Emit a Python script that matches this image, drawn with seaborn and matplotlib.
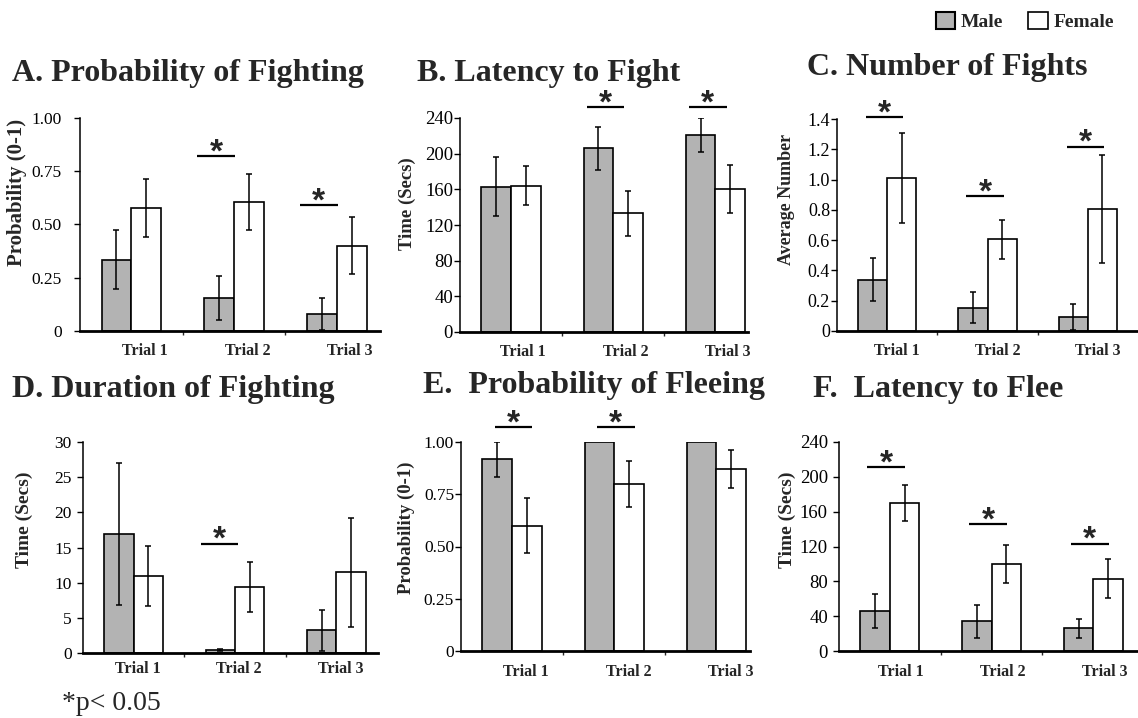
import numpy as np
import pandas as pd
import matplotlib.pyplot as plt
import seaborn as sns
from matplotlib.patches import Patch

# data
trials = ['Trial 1', 'Trial 2', 'Trial 3']
sexes = ['Male', 'Female']

# A. probability of fighting
fight_prob_male = [0.335, 0.155, 0.08]
fight_prob_male_se = [0.14, 0.105, 0.075]
fight_prob_female = [0.578, 0.605, 0.40]
fight_prob_female_se = [0.135, 0.13, 0.133]
fight_prob_sig = [1, 2]
fight_prob_sig_y = [0.82, 0.59]

# B. latency to fight
fight_lat_male = [163, 206, 221]
fight_lat_male_se = [33, 24, 19]
fight_lat_female = [164, 133, 160]
fight_lat_female_se = [22, 25, 27]
fight_lat_sig = [1, 2]
fight_lat_sig_y = [252, 252]

# C. number of fights
fight_num_male = [0.34, 0.155, 0.09]
fight_num_male_se = [0.14, 0.105, 0.085]
fight_num_female = [1.01, 0.605, 0.805]
fight_num_female_se = [0.30, 0.13, 0.355]
fight_num_sig = [0, 1, 2]
fight_num_sig_y = [1.41, 0.89, 1.214]

# D. duration of fighting
fight_dur_male = [16.9, 0.45, 3.2]
fight_dur_male_se = [10.1, 0.1, 2.9]
fight_dur_female = [10.95, 9.45, 11.45]
fight_dur_female_se = [4.2, 3.55, 7.7]
fight_dur_sig = [1]
fight_dur_sig_y = [15.5]

# E. probability of fleeing
flee_prob_male = [0.917, 1.0, 1.0]
flee_prob_male_se = [0.085, 0, 0]
flee_prob_female = [0.60, 0.80, 0.87]
flee_prob_female_se = [0.13, 0.11, 0.092]
flee_prob_sig = [0, 1]
flee_prob_sig_y = [1.07, 1.07]

# F. latency to flee
flee_lat_male = [46, 34, 26]
flee_lat_male_se = [20, 18.7, 11]
flee_lat_female = [170, 100, 83]
flee_lat_female_se = [20.5, 21.7, 22.7]
flee_lat_sig = [0, 1, 2]
flee_lat_sig_y = [211, 145.6, 123.4]

prob_ticks = [0, 0.25, 0.5, 0.75, 1.0]
prob_ticklabels = ['0', '0.25', '0.50', '0.75', '1.00']
time_ticks = [0, 40, 80, 120, 160, 200, 240]
num_ticks = [0, 0.2, 0.4, 0.6, 0.8, 1.0, 1.2, 1.4]
num_ticklabels = ['0', '0.2', '0.4', '0.6', '0.8', '1.0', '1.2', '1.4']
dur_ticks = [0, 5, 10, 15, 20, 25, 30]

panels = [
    dict(title='A. Probability of Fighting', ylabel='Probability (0-1)',
         male=fight_prob_male, male_se=fight_prob_male_se,
         female=fight_prob_female, female_se=fight_prob_female_se,
         ticks=prob_ticks, ticklabels=prob_ticklabels,
         sig=fight_prob_sig, sig_y=fight_prob_sig_y),
    dict(title='B. Latency to Fight', ylabel='Time (Secs)',
         male=fight_lat_male, male_se=fight_lat_male_se,
         female=fight_lat_female, female_se=fight_lat_female_se,
         ticks=time_ticks, ticklabels=[str(t) for t in time_ticks],
         sig=fight_lat_sig, sig_y=fight_lat_sig_y),
    dict(title='C. Number of Fights', ylabel='Average Number',
         male=fight_num_male, male_se=fight_num_male_se,
         female=fight_num_female, female_se=fight_num_female_se,
         ticks=num_ticks, ticklabels=num_ticklabels,
         sig=fight_num_sig, sig_y=fight_num_sig_y),
    dict(title='D. Duration of Fighting', ylabel='Time (Secs)',
         male=fight_dur_male, male_se=fight_dur_male_se,
         female=fight_dur_female, female_se=fight_dur_female_se,
         ticks=dur_ticks, ticklabels=[str(t) for t in dur_ticks],
         sig=fight_dur_sig, sig_y=fight_dur_sig_y),
    dict(title='E.  Probability of Fleeing', ylabel='Probability (0-1)',
         male=flee_prob_male, male_se=flee_prob_male_se,
         female=flee_prob_female, female_se=flee_prob_female_se,
         ticks=prob_ticks, ticklabels=prob_ticklabels,
         sig=flee_prob_sig, sig_y=flee_prob_sig_y),
    dict(title='F.  Latency to Flee', ylabel='Time (Secs)',
         male=flee_lat_male, male_se=flee_lat_male_se,
         female=flee_lat_female, female_se=flee_lat_female_se,
         ticks=time_ticks, ticklabels=[str(t) for t in time_ticks],
         sig=flee_lat_sig, sig_y=flee_lat_sig_y),
]

# layout in pixels: axes box (left, top, right, bottom), x max, title pos,
# ylabel coords, ylabel size, tick size, tick pad, star-line start offset
layout = [
    dict(box=(80, 118, 380, 331), xmax=2.42, tpos=(12, 73), lab=(-0.177, 0.65), lsize=15, tsize=12.5, tpad=9, off=-0.36, xlab_off=0.13, xpad=9),
    dict(box=(460, 118, 748, 332), xmax=2.32, tpos=(417, 73), lab=(-0.153, 0.60), lsize=13.5, tsize=13.5, tpad=1, off=-0.26, xlab_off=0.12, xpad=9),
    dict(box=(837, 119, 1137, 331), xmax=2.49, tpos=(807, 68), lab=(-0.14, 0.62), lsize=13, tsize=13, tpad=1, off=-0.21, xlab_off=0.1, xpad=9),
    dict(box=(83, 442, 378, 653), xmax=2.41, tpos=(12, 390), lab=(-0.17, 0.63), lsize=14, tsize=12.5, tpad=4, off=-0.34, xlab_off=0.04, xpad=6),
    dict(box=(461, 442, 750, 651), xmax=2.33, tpos=(423, 386), lab=(-0.159, 0.59), lsize=13.5, tsize=12.5, tpad=1, off=-0.17, xlab_off=0.14, xpad=9),
    dict(box=(839, 442, 1137, 651), xmax=2.43, tpos=(813, 390), lab=(-0.144, 0.63), lsize=14, tsize=13.5, tpad=4, off=-0.22, xlab_off=0.11, xpad=9),
]

W, H = 1138, 718
male_color = '#b3b3b3'
palette = {'Male': male_color, 'Female': 'white'}

sns.set_theme(style='white')
plt.rcParams['font.family'] = ['Liberation Serif', 'DejaVu Serif']

fig = plt.figure(figsize=(W / 100, H / 100), dpi=100)
fig.patch.set_facecolor('white')

for p, lay in zip(panels, layout):
    l, t, r, b = lay['box']
    ax = fig.add_axes([l / W, 1 - b / H, (r - l) / W, (b - t) / H])
    ax.set_facecolor('white')

    df = pd.DataFrame({
        'trial': trials * 2,
        'sex': ['Male'] * 3 + ['Female'] * 3,
        'value': list(p['male']) + list(p['female']),
    })
    sns.barplot(data=df, x='trial', y='value', hue='sex', hue_order=sexes,
                palette=palette, saturation=1, width=0.58, edgecolor='black',
                linewidth=1.2, errorbar=None, legend=False, ax=ax)

    # error bars on top of the bars
    for cont, means, errs in zip(ax.containers, [p['male'], p['female']],
                                 [p['male_se'], p['female_se']]):
        xs = [bar.get_x() + bar.get_width() / 2 for bar in cont]
        keep = [i for i, e in enumerate(errs) if e > 0]
        ax.errorbar([xs[i] for i in keep], [means[i] for i in keep],
                    yerr=[errs[i] for i in keep], fmt='none', ecolor='black',
                    elinewidth=1.1, capsize=2.5, capthick=1.1, zorder=5)

    # significance lines and stars
    for trial_idx, y in zip(p['sig'], p['sig_y']):
        x0 = trial_idx + lay['off']
        x1 = x0 + 0.37
        ax.plot([x0, x1], [y, y], color='black', lw=1.6, clip_on=False,
                solid_capstyle='butt')
        ax.annotate('*', xy=((x0 + x1) / 2, y), xytext=(0, -3.5),
                    textcoords='offset points', ha='center', va='baseline',
                    fontsize=24, fontweight='bold', family='Liberation Sans',
                    annotation_clip=False)

    ax.set_ylim(0, p['ticks'][-1])
    ax.set_yticks(p['ticks'])
    ax.set_yticklabels(p['ticklabels'], fontsize=lay['tsize'])
    ax.tick_params(axis='y', direction='out', length=4, width=1, pad=lay['tpad'],
                   left=True, colors='black')

    ax.set_xlim(-0.5, lay['xmax'])
    ax.set_xticks([0.5, 1.5])
    ax.set_xticklabels([])
    ax.set_xticks(np.arange(3) + lay['xlab_off'], minor=True)
    ax.set_xticklabels(trials, minor=True, fontsize=11.5, fontweight='bold')
    ax.tick_params(axis='x', which='major', direction='out', length=3, width=1,
                   bottom=True)
    ax.tick_params(axis='x', which='minor', length=0, pad=lay['xpad'])
    ax.set_xlabel('')

    ax.set_ylabel(p['ylabel'], fontsize=lay['lsize'], fontweight='bold')
    ax.yaxis.set_label_coords(*lay['lab'])

    sns.despine(ax=ax)
    ax.spines['left'].set_linewidth(1.1)
    ax.spines['left'].set_color('black')
    ax.spines['bottom'].set_linewidth(2.0)
    ax.spines['bottom'].set_color('black')

    fig.text(lay['tpos'][0] / W, 1 - lay['tpos'][1] / H, p['title'],
             fontsize=23, fontweight='bold', ha='left', va='center')

handles = [Patch(facecolor=male_color, edgecolor='black', linewidth=1.5),
           Patch(facecolor='white', edgecolor='black', linewidth=1.2)]
fig.legend(handles=handles, labels=sexes, loc='upper right',
           bbox_to_anchor=(1122 / W, 1 - 4 / H), ncol=2, frameon=False,
           prop=dict(family='Liberation Serif', weight='bold', size=14),
           handlelength=1.0, handleheight=1.0, handletextpad=0.3,
           columnspacing=1.3, borderaxespad=0)

fig.text(62 / W, 1 - 703 / H, '*p< 0.05', fontsize=20, ha='left', va='center')

fig.savefig('out.png', dpi=100, facecolor='white')
